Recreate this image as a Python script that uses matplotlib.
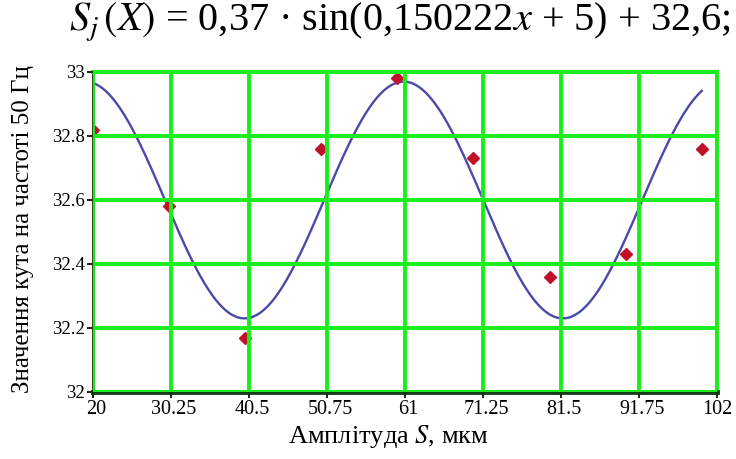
import numpy as np
import matplotlib
matplotlib.use("Agg")
import matplotlib.pyplot as plt
import matplotlib.transforms as mtrans

plt.rcParams['font.family'] = ['Liberation Serif', 'DejaVu Serif']
plt.rcParams['mathtext.fontset'] = 'stix'

# measured points
x_pts = [20, 30, 40, 50, 60, 70, 80, 90, 100]
y_pts = [32.82, 32.58, 32.17, 32.76, 32.98, 32.73, 32.36, 32.43, 32.76]

# fitted curve S(x) = 0.37*sin(0.150222x + 5) + 32.6
amp = 0.37
freq = 0.150222
phase = 5
offset = 32.6
x_fit = np.linspace(20, 100, 400)
y_fit = amp * np.sin(freq * x_fit + phase) + offset

x_ticks = [20, 30.25, 40.5, 50.75, 61, 71.25, 81.5, 91.75, 102]
x_labels = ["20", "30.25", "40.5", "50.75", "61", "71.25", "81.5", "91.75", "102"]
y_ticks = [32, 32.2, 32.4, 32.6, 32.8, 33]
y_labels = ["32", "32.2", "32.4", "32.6", "32.8", "33"]

grid_green = "#1aee1a"

fig = plt.figure(figsize=(7.36, 4.59), dpi=100)
ax = fig.add_axes([93/736, 67/459, (717-93)/736, (392-72)/459])

ax.plot(x_fit, y_fit, color="#4a4aa8", lw=1.7, zorder=2)
ax.plot(x_pts, y_pts, "D", color="#c0102a", ms=6, zorder=2)

ax.set_xlim(20, 102)
ax.set_ylim(32, 33)
ax.set_xticks(x_ticks)
ax.set_xticklabels(x_labels, fontsize=14.5)
ax.set_yticks(y_ticks)
ax.set_yticklabels(y_labels, fontsize=13.5)

ax.set_axisbelow(False)
ax.grid(True, color=grid_green, lw=2.8)
ax.tick_params(axis="both", length=4, width=1.5, color="#1e2e10", pad=2)

# shift x tick labels a little to the right like the original
offset_tr = mtrans.ScaledTranslation(3/100, 0, fig.dpi_scale_trans)
for lab in ax.get_xticklabels()[:-1]:
    lab.set_transform(lab.get_transform() + offset_tr)

ax.spines["left"].set_color("#2a2a14")
ax.spines["left"].set_linewidth(2)
ax.spines["bottom"].set_color("#14401a")
ax.spines["bottom"].set_linewidth(3.5)
ax.spines["top"].set_color(grid_green)
ax.spines["top"].set_linewidth(2.8)
ax.spines["right"].set_color(grid_green)
ax.spines["right"].set_linewidth(2.8)

fig.text(388/736, 1 - 437/459, r"Амплітуда $S$, мкм", ha="center", va="center",
         fontsize=19)
fig.text(23/736, 0.5, "Значення кута на частоті 50 Гц", rotation=90,
         ha="center", va="center", fontsize=18)
fig.text(400/736, 1 - 22/459,
         r"$S_j\,(X)$ = 0,37 · sin(0,150222$x$ + 5) + 32,6;",
         ha="center", va="center", fontsize=29)

fig.savefig("out.png", dpi=100)
